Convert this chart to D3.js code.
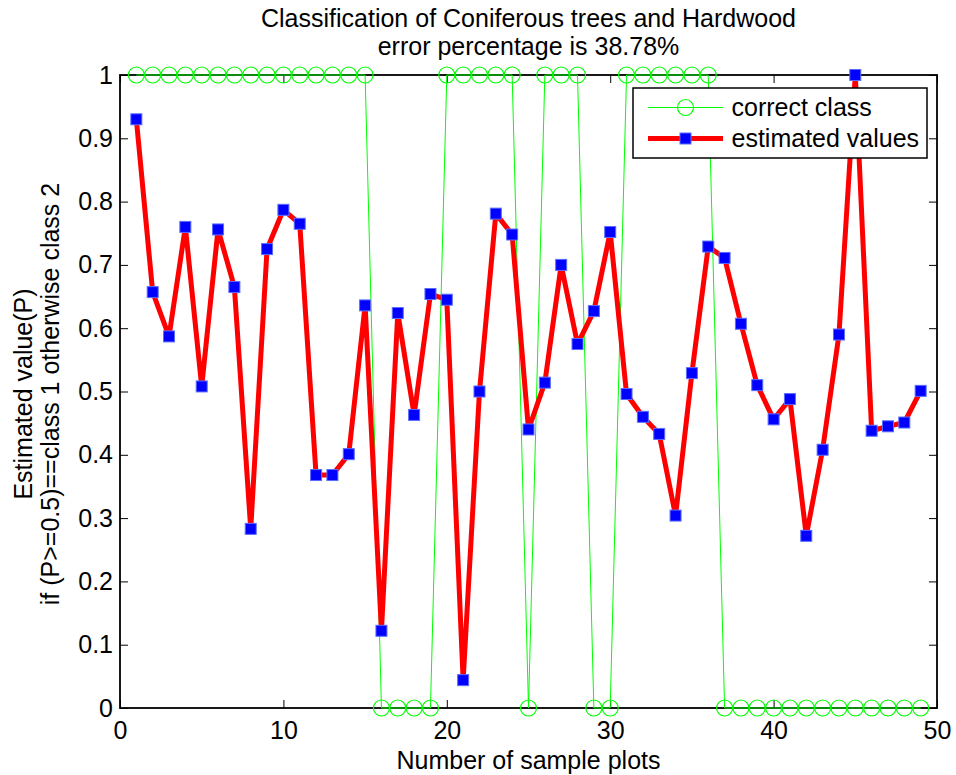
<!DOCTYPE html>
<html>
<head>
<meta charset="utf-8">
<script src="https://cdn.jsdelivr.net/npm/d3@7"></script>
<style>
  body { margin: 0; background: #fff; }
  text { font-family: "Liberation Sans", Arial, sans-serif; fill: #000; }
</style>
</head>
<body>
<div id="chart"></div>
<script>
// datos del grafico
const muestras = d3.range(1, 50);
const claseCorrecta = [1,1,1,1,1,1,1,1,1,1,1,1,1,1,1, 0,0,0,0, 1,1,1,1,1, 0, 1,1,1, 0,0, 1,1,1,1,1,1, 0,0,0,0,0,0,0,0,0,0,0,0,0];
const estimados = [0.93,0.657,0.587,0.76,0.508,0.756,0.665,0.283,0.725,0.787,
                   0.765,0.368,0.368,0.401,0.636,0.122,0.624,0.463,0.654,0.645,
                   0.044,0.50,0.781,0.748,0.44,0.514,0.70,0.575,0.627,0.752,
                   0.496,0.46,0.433,0.304,0.529,0.729,0.711,0.607,0.510,0.456,
                   0.488,0.272,0.408,0.590,1.0,0.438,0.445,0.451,0.501];
const ticksX = [0, 10, 20, 30, 40, 50];
const ticksY = [0, 0.1, 0.2, 0.3, 0.4, 0.5, 0.6, 0.7, 0.8, 0.9, 1];

const W = 956, H = 775;
const m = { left: 120, right: 19, top: 75, bottom: 67 };
const fs = 25;

const svg = d3.select("#chart").append("svg")
  .attr("width", W).attr("height", H);

const x = d3.scaleLinear().domain([0, 50]).range([m.left, W - m.right]);
const y = d3.scaleLinear().domain([0, 1]).range([H - m.bottom, m.top]);

// ejes (ticks hacia dentro, como matlab)
const tk = 8;
svg.append("g").attr("transform", `translate(0,${y(0)})`)
  .call(d3.axisBottom(x).tickValues(ticksX).tickSize(-tk).tickPadding(13).tickFormat(d3.format("d")))
  .call(g => g.select(".domain").remove());
svg.append("g").attr("transform", `translate(0,${y(1)})`)
  .call(d3.axisTop(x).tickValues(ticksX).tickSize(-tk).tickFormat(""))
  .call(g => g.select(".domain").remove());
svg.append("g").attr("transform", `translate(${x(0)},0)`)
  .call(d3.axisLeft(y).tickValues(ticksY).tickSize(-tk).tickPadding(7).tickFormat(d => d3.format("")(+d.toFixed(1))))
  .call(g => g.select(".domain").remove());
svg.append("g").attr("transform", `translate(${x(50)},0)`)
  .call(d3.axisRight(y).tickValues(ticksY).tickSize(-tk).tickFormat(""))
  .call(g => g.select(".domain").remove());

svg.selectAll(".tick line").attr("stroke", "#000").attr("stroke-width", 1);
svg.selectAll(".tick text").attr("font-size", fs).attr("fill", "#000")
  .style("font-family", '"Liberation Sans", Arial, sans-serif');

svg.append("rect")
  .attr("x", x(0)).attr("y", y(1))
  .attr("width", x(50) - x(0)).attr("height", y(0) - y(1))
  .attr("fill", "none").attr("stroke", "#000").attr("stroke-width", 1.8);

// serie verde: clase correcta
const linea = d3.line().x((d, i) => x(muestras[i])).y(d => y(d));
svg.append("path").datum(claseCorrecta)
  .attr("d", linea).attr("fill", "none").attr("stroke", "#00ff00").attr("stroke-width", 1);
svg.selectAll(".circ").data(claseCorrecta).enter().append("circle")
  .attr("cx", (d, i) => x(muestras[i])).attr("cy", d => y(d)).attr("r", 8)
  .attr("fill", "none").attr("stroke", "#00ff00").attr("stroke-width", 1.2);

// serie roja: valores estimados
svg.append("path").datum(estimados)
  .attr("d", linea).attr("fill", "none").attr("stroke", "#ff0000")
  .attr("stroke-width", 5).attr("stroke-linejoin", "round");
svg.selectAll(".sq").data(estimados).enter().append("rect")
  .attr("x", (d, i) => x(muestras[i]) - 5.5).attr("y", d => y(d) - 5.5)
  .attr("width", 11).attr("height", 11)
  .attr("fill", "#0000ff").attr("stroke", "#5a6cff").attr("stroke-width", 1);

// titulo y etiquetas
svg.append("text").attr("x", x(25)).attr("y", 27).attr("text-anchor", "middle")
  .attr("font-size", fs).text("Classification of Coniferous trees and Hardwood");
svg.append("text").attr("x", x(25)).attr("y", 55).attr("text-anchor", "middle")
  .attr("font-size", fs).text("error percentage is 38.78%");
svg.append("text").attr("x", x(25)).attr("y", 769).attr("text-anchor", "middle")
  .attr("font-size", fs).text("Number of sample plots");

const yc = 394;
svg.append("text").attr("transform", `translate(32,${yc}) rotate(-90)`)
  .attr("text-anchor", "middle").attr("font-size", fs).text("Estimated value(P)");
svg.append("text").attr("transform", `translate(59,${yc}) rotate(-90)`)
  .attr("text-anchor", "middle").attr("font-size", fs).text("if (P>=0.5)==class 1 otherwise class 2");

// leyenda
const lg = svg.append("g").attr("transform", "translate(633,88)");
lg.append("rect").attr("width", 294).attr("height", 70)
  .attr("fill", "#fff").attr("stroke", "#000").attr("stroke-width", 1.5);
lg.append("line").attr("x1", 15).attr("x2", 90).attr("y1", 19.5).attr("y2", 19.5)
  .attr("stroke", "#00ff00").attr("stroke-width", 1);
lg.append("circle").attr("cx", 52.5).attr("cy", 19.5).attr("r", 8)
  .attr("fill", "none").attr("stroke", "#00ff00").attr("stroke-width", 1.2);
lg.append("text").attr("x", 98.5).attr("y", 27.5).attr("font-size", fs).text("correct class");
lg.append("line").attr("x1", 15).attr("x2", 90).attr("y1", 50.5).attr("y2", 50.5)
  .attr("stroke", "#ff0000").attr("stroke-width", 5);
lg.append("rect").attr("x", 47).attr("y", 45).attr("width", 11).attr("height", 11)
  .attr("fill", "#0000ff").attr("stroke", "#5a6cff").attr("stroke-width", 1);
lg.append("text").attr("x", 98.5).attr("y", 58.5).attr("font-size", fs).text("estimated values");
</script>
</body>
</html>
